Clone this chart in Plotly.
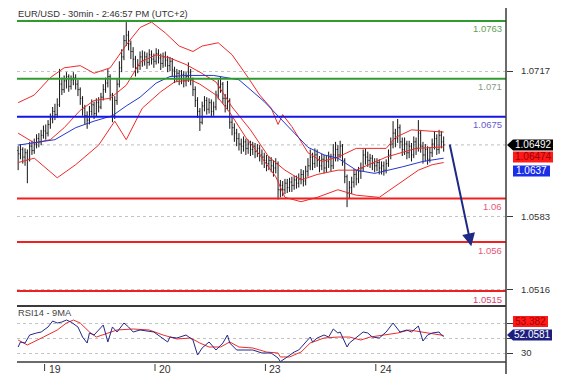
import plotly.graph_objects as go

W, H = 562, 383

# ---------------- data ----------------
closes = [
    1.0641, 1.0645, 1.0638, 1.0642, 1.0636, 1.0648, 1.0644, 1.0650, 1.0655, 1.0652,
    1.0658, 1.0662, 1.0660, 1.0668, 1.0673, 1.0680, 1.0677, 1.0686, 1.0705, 1.0700,
    1.0708, 1.0712, 1.0703, 1.0709, 1.0711, 1.0705, 1.0700, 1.0692, 1.0683, 1.0676,
    1.0672, 1.0680, 1.0686, 1.0678, 1.0688, 1.0684, 1.0693, 1.0700, 1.0706, 1.0712,
    1.0695, 1.0676, 1.0690, 1.0705, 1.0720, 1.0730, 1.0745, 1.0750, 1.0742, 1.0735,
    1.0728, 1.0720, 1.0722, 1.0730, 1.0727, 1.0730, 1.0725, 1.0732, 1.0728, 1.0726,
    1.0733, 1.0729, 1.0724, 1.0730, 1.0727, 1.0722, 1.0726, 1.0718, 1.0712, 1.0715,
    1.0710, 1.0714, 1.0708, 1.0712, 1.0716, 1.0709, 1.0700, 1.0690, 1.0680, 1.0670,
    1.0685, 1.0690, 1.0682, 1.0688, 1.0680, 1.0684, 1.0695, 1.0703, 1.0705, 1.0692,
    1.0685, 1.0690, 1.0670, 1.0665, 1.0660, 1.0655, 1.0650, 1.0648, 1.0652, 1.0646,
    1.0650, 1.0645, 1.0648, 1.0643, 1.0646, 1.0640, 1.0638, 1.0635, 1.0632, 1.0635,
    1.0630, 1.0628, 1.0632, 1.0608, 1.0612, 1.0608, 1.0614, 1.0610, 1.0615, 1.0612,
    1.0617, 1.0614, 1.0618, 1.0622, 1.0616, 1.0625, 1.0630, 1.0638, 1.0632, 1.0640,
    1.0635, 1.0630, 1.0636, 1.0628, 1.0634, 1.0638, 1.0630, 1.0640, 1.0645, 1.0640,
    1.0648, 1.0635, 1.0620, 1.0605, 1.0610, 1.0615, 1.0622, 1.0618, 1.0625, 1.0628,
    1.0640, 1.0638, 1.0635, 1.0637, 1.0632, 1.0630, 1.0633, 1.0628, 1.0630, 1.0626,
    1.0632, 1.0640, 1.0650, 1.0660, 1.0655, 1.0665, 1.0652, 1.0645, 1.0650, 1.0642,
    1.0648, 1.0640, 1.0652, 1.0646, 1.0660, 1.0648, 1.0640, 1.0645, 1.0636, 1.0642,
    1.0650, 1.0655, 1.0645, 1.0658, 1.0652, 1.06492,
]
highs = [
    1.0648, 1.0650, 1.0647, 1.0646, 1.0645, 1.0652, 1.0653, 1.0655, 1.0659, 1.0660,
    1.0663, 1.0667, 1.0668, 1.0672, 1.0678, 1.0684, 1.0687, 1.0692, 1.0719, 1.0711,
    1.0713, 1.0716, 1.0714, 1.0713, 1.0716, 1.0714, 1.0709, 1.0702, 1.0694, 1.0686,
    1.0680, 1.0685, 1.0691, 1.0689, 1.0692, 1.0693, 1.0697, 1.0705, 1.0711, 1.0719,
    1.0714, 1.0697, 1.0694, 1.0710, 1.0726, 1.0737, 1.0750, 1.0762, 1.0754, 1.0745,
    1.0739, 1.0731, 1.0728, 1.0735, 1.0736, 1.0735, 1.0734, 1.0737, 1.0736, 1.0733,
    1.0738, 1.0737, 1.0733, 1.0734, 1.0735, 1.0731, 1.0730, 1.0729, 1.0721, 1.0719,
    1.0718, 1.0718, 1.0717, 1.0716, 1.0725, 1.0719, 1.0711, 1.0703, 1.0693, 1.0683,
    1.0689, 1.0694, 1.0693, 1.0692, 1.0691, 1.0689, 1.0699, 1.0709, 1.0712, 1.0707,
    1.0696, 1.0708, 1.0692, 1.0675, 1.0669, 1.0664, 1.0660, 1.0655, 1.0657, 1.0655,
    1.0654, 1.0653, 1.0652, 1.0651, 1.0650, 1.0649, 1.0645, 1.0642, 1.0640, 1.0639,
    1.0638, 1.0635, 1.0637, 1.0634, 1.0617, 1.0616, 1.0618, 1.0618, 1.0619, 1.0620,
    1.0621, 1.0621, 1.0623, 1.0627, 1.0626, 1.0630, 1.0637, 1.0645, 1.0642, 1.0646,
    1.0645, 1.0639, 1.0641, 1.0640, 1.0639, 1.0643, 1.0641, 1.0650, 1.0652, 1.0649,
    1.0653, 1.0650, 1.0637, 1.0622, 1.0616, 1.0620, 1.0627, 1.0626, 1.0629, 1.0633,
    1.0645, 1.0646, 1.0643, 1.0641, 1.0640, 1.0637, 1.0637, 1.0636, 1.0634, 1.0634,
    1.0636, 1.0645, 1.0656, 1.0671, 1.0664, 1.0673, 1.0668, 1.0656, 1.0656, 1.0653,
    1.0653, 1.0651, 1.0657, 1.0656, 1.0672, 1.0663, 1.0652, 1.0650, 1.0648, 1.0647,
    1.0655, 1.0662, 1.0659, 1.0663, 1.0662, 1.0657,
]
lows = [
    1.0626, 1.0636, 1.0632, 1.0630, 1.0614, 1.0634, 1.0640, 1.0641, 1.0646, 1.0647,
    1.0649, 1.0655, 1.0654, 1.0657, 1.0664, 1.0669, 1.0672, 1.0674, 1.0684, 1.0695,
    1.0697, 1.0701, 1.0698, 1.0700, 1.0704, 1.0700, 1.0694, 1.0686, 1.0676, 1.0668,
    1.0664, 1.0668, 1.0676, 1.0673, 1.0675, 1.0679, 1.0682, 1.0690, 1.0697, 1.0702,
    1.0690, 1.0670, 1.0673, 1.0686, 1.0702, 1.0716, 1.0727, 1.0740, 1.0736, 1.0728,
    1.0720, 1.0712, 1.0715, 1.0718, 1.0721, 1.0722, 1.0719, 1.0722, 1.0723, 1.0720,
    1.0723, 1.0724, 1.0718, 1.0720, 1.0721, 1.0716, 1.0717, 1.0712, 1.0706, 1.0707,
    1.0704, 1.0705, 1.0702, 1.0703, 1.0707, 1.0704, 1.0694, 1.0684, 1.0674, 1.0662,
    1.0668, 1.0680, 1.0677, 1.0678, 1.0675, 1.0676, 1.0681, 1.0691, 1.0697, 1.0687,
    1.0679, 1.0681, 1.0664, 1.0658, 1.0652, 1.0648, 1.0644, 1.0641, 1.0643, 1.0640,
    1.0641, 1.0639, 1.0640, 1.0637, 1.0638, 1.0634, 1.0631, 1.0628, 1.0625, 1.0626,
    1.0624, 1.0620, 1.0623, 1.0599, 1.0601, 1.0602, 1.0604, 1.0605, 1.0606, 1.0606,
    1.0608, 1.0609, 1.0610, 1.0613, 1.0611, 1.0612, 1.0620, 1.0626, 1.0626, 1.0628,
    1.0629, 1.0624, 1.0626, 1.0623, 1.0624, 1.0628, 1.0625, 1.0627, 1.0634, 1.0634,
    1.0637, 1.0630, 1.0614, 1.0592, 1.0600, 1.0604, 1.0610, 1.0612, 1.0614, 1.0618,
    1.0625, 1.0631, 1.0629, 1.0628, 1.0626, 1.0624, 1.0625, 1.0622, 1.0622, 1.0621,
    1.0623, 1.0629, 1.0636, 1.0646, 1.0647, 1.0651, 1.0646, 1.0639, 1.0640, 1.0636,
    1.0637, 1.0634, 1.0637, 1.0640, 1.0643, 1.0642, 1.0632, 1.0634, 1.0631, 1.0633,
    1.0638, 1.0645, 1.0640, 1.0641, 1.0646, 1.0643,
]
first_open = 1.0644
opens = [first_open] + closes[:-1]
bars = list(range(len(closes)))

# Bollinger bands (red) and moving average (blue), sampled at bar indices
bb_up_idx = [0, 7, 14, 20, 27, 33, 40, 47, 53, 58, 64, 70, 76, 80, 87, 93, 100, 105, 110, 113,
             115, 119, 126, 132, 139, 147, 160, 164, 171, 185]
bb_up = [1.0688, 1.0695, 1.0711, 1.0720, 1.0722, 1.0715, 1.0720, 1.0741, 1.0757, 1.0762,
         1.0752, 1.0740, 1.0735, 1.0740, 1.0743, 1.0732, 1.0711, 1.0695, 1.0683, 1.0668,
         1.0677, 1.0666, 1.0642, 1.0634, 1.0638, 1.0646, 1.0646, 1.0656, 1.0663, 1.0661]
bb_mid_idx = [0, 7, 14, 20, 27, 33, 40, 47, 53, 60, 66, 73, 79, 86, 93, 101, 109, 116, 123,
              130, 139, 147, 160, 173, 185]
bb_mid = [1.0660, 1.0651, 1.0654, 1.0665, 1.0681, 1.0690, 1.0692, 1.0704, 1.0725, 1.0732,
          1.0729, 1.0723, 1.0716, 1.0707, 1.0684, 1.0663, 1.0638, 1.0626, 1.0617, 1.0622,
          1.0626, 1.0626, 1.0638, 1.0646, 1.06474]
bb_lo_idx = [0, 7, 17, 25, 35, 42, 47, 54, 62, 68, 75, 79, 86, 92, 99, 105, 112, 116, 123,
             130, 139, 147, 157, 164, 174, 180, 185]
bb_lo = [1.0633, 1.0637, 1.0619, 1.0631, 1.0649, 1.0671, 1.0654, 1.0683, 1.0698, 1.0707,
         1.0709, 1.0705, 1.0695, 1.0679, 1.0656, 1.0640, 1.0620, 1.0601, 1.0597, 1.0601,
         1.0608, 1.0603, 1.0601, 1.0611, 1.0626, 1.0631, 1.0633]
ma_idx = [0, 7, 16, 25, 33, 41, 47, 53, 60, 66, 73, 85, 96, 107, 119, 126, 133, 139, 147,
          155, 167, 176, 185]
ma = [1.0649, 1.0651, 1.0654, 1.0665, 1.0671, 1.0676, 1.0685, 1.0693, 1.0706, 1.0712,
      1.0713, 1.0713, 1.0709, 1.0689, 1.0663, 1.0647, 1.0640, 1.0637, 1.0626, 1.0623,
      1.0629, 1.0634, 1.0637]

# RSI(14) and its 9-period MA
rsi_idx = [0, 1, 3, 5, 8, 10, 13, 15, 17, 19, 21, 23, 26, 28, 30, 31, 33, 36, 37, 39,
           41, 43, 46, 48, 50, 53, 59, 65, 66, 69, 73, 76, 78, 80, 83, 86, 89, 91, 92, 95,
           98, 102, 106, 110, 113, 114, 117, 120, 122, 125, 127, 128, 130, 133, 135, 137, 139, 140,
           143, 144, 147, 150, 152, 154, 157, 160, 163, 166, 169, 171, 174, 175, 176, 178,
           180, 183, 184, 185]
rsi = [38.0, 44.7, 43.3, 54.0, 56.7, 58.0, 64.7, 72.7, 70.0, 71.3, 74.0, 71.3, 64.7, 51.3,
       43.3, 56.7, 54.0, 63.3, 67.3, 44.7, 64.7, 58.0, 70.0, 64.7, 58.0, 60.7, 58.0, 44.7,
       51.3, 50.0, 54.0, 47.3, 27.3, 36.7, 44.7, 34.0, 43.3, 54.0, 43.3, 34.0, 34.0, 34.0,
       30.0, 30.0, 23.3, 18.5, 24.7, 31.3, 34.0, 44.7, 51.3, 44.7, 50.0, 54.0, 51.3, 62.0,
       56.7, 58.0, 38.0, 43.3, 51.3, 58.0, 56.7, 51.3, 50.0, 58.0, 70.0, 58.0, 60.7, 58.0,
       66.0, 54.0, 46.0, 54.0, 56.7, 58.0, 54.0, 52.0581]
rsi_ma_idx = [0, 4, 11, 17, 21, 24, 27, 31, 34, 39, 43, 50, 57, 63, 69, 75, 79, 83, 88, 92,
              96, 102, 108, 113, 114, 118, 123, 127, 133, 139, 144, 149, 153, 159, 165, 170,
              175, 179, 185]
rsi_ma = [47.3, 40.7, 51.3, 60.7, 70.0, 74.0, 70.0, 58.0, 51.3, 56.7, 60.7, 62.0, 60.7,
          54.0, 48.7, 50.0, 43.3, 38.0, 38.0, 44.7, 38.0, 36.7, 31.3, 30.0, 24.7, 24.7,
          31.3, 43.3, 50.0, 51.3, 51.3, 47.3, 51.3, 54.0, 56.7, 60.7, 58.0, 56.7, 53.382]

levels = [1.0763, 1.071, 1.0675, 1.06, 1.056, 1.0515]
level_labels = ["1.0763", "1.071", "1.0675", "1.06", "1.056", "1.0515"]
level_colors = ["#2f9b2f", "#2f9b2f", "#1515e6", "#ee2020", "#ee2020", "#ee2020"]
level_label_colors = ["#5f9f55", "#8a9a8a", "#6a5ad0", "#e8577c", "#e8577c", "#d84470"]
price_ticks = [1.0717, 1.0583, 1.0516]
price_tick_text = ["1.0717", "1.0583", "1.0516"]
rsi_ticks = [30, 50, 70]
rsi_tick_text = ["30", "", ""]
day_ticks = [11.5, 59.5, 107.5, 155.5]
day_labels = ["19", "20", "23", "24"]
title_text = "EUR/USD - 30min - 2:46:57 PM (UTC+2)"
rsi_title = "RSI14 - 9MA"
arrow_start = (187.5, 1.0651)
arrow_end = (197.0, 1.0556)

# ---------------- layout geometry ----------------
FONT = "Liberation Sans, Arial, sans-serif"
X_L, X_R = 17, 506           # plot area (px)
MAIN_T, MAIN_B = 6, 302
RSI_T, RSI_B = 306, 362
PRICE_RANGE = [1.050490, 1.077678]
RSI_RANGE = [18.0, 92.7]
X_RANGE = [-0.5, 212.1]


def px(x):
    return x / W


def py(y):
    return 1 - y / H


def price_y(p):
    lo, hi = PRICE_RANGE
    return MAIN_T + (hi - p) / (hi - lo) * (MAIN_B - MAIN_T)


def rsi_y(v):
    lo, hi = RSI_RANGE
    return RSI_T + (hi - v) / (hi - lo) * (RSI_B - RSI_T)


fig = go.Figure()

fig.add_trace(go.Ohlc(
    x=bars, open=opens, high=highs, low=lows, close=closes,
    increasing=dict(line=dict(color="#151515", width=1)),
    decreasing=dict(line=dict(color="#151515", width=1)),
    tickwidth=0.35, xaxis="x", yaxis="y", showlegend=False, hoverinfo="skip",
))
for xi, yi in [(bb_up_idx, bb_up), (bb_mid_idx, bb_mid), (bb_lo_idx, bb_lo)]:
    fig.add_trace(go.Scatter(x=xi, y=yi, mode="lines", line=dict(color="#ee2a2a", width=1),
                             xaxis="x", yaxis="y", showlegend=False, hoverinfo="skip"))
fig.add_trace(go.Scatter(x=ma_idx, y=ma, mode="lines", line=dict(color="#2536d0", width=1),
                         xaxis="x", yaxis="y", showlegend=False, hoverinfo="skip"))

fig.add_trace(go.Scatter(x=rsi_ma_idx, y=rsi_ma, mode="lines", line=dict(color="#ee2a2a", width=1),
                         xaxis="x2", yaxis="y2", showlegend=False, hoverinfo="skip"))
fig.add_trace(go.Scatter(x=rsi_idx, y=rsi, mode="lines", line=dict(color="#23288a", width=1),
                         xaxis="x2", yaxis="y2", showlegend=False, hoverinfo="skip"))

shapes = []
annotations = []

# current price dotted line
shapes.append(dict(type="line", xref="x domain", yref="y", x0=0, x1=1, y0=closes[-1], y1=closes[-1],
                   line=dict(color="#bdbdbd", width=1, dash="dot"), layer="below"))

# horizontal levels
for lv, lab, lc, tc in zip(levels, level_labels, level_colors, level_label_colors):
    shapes.append(dict(type="line", xref="x domain", yref="y", x0=0, x1=1, y0=lv, y1=lv,
                       line=dict(color=lc, width=2)))
    annotations.append(dict(xref="x domain", yref="y", x=1, y=lv, xanchor="right", yanchor="middle",
                            xshift=-2, yshift=-8, text=lab, showarrow=False,
                            font=dict(family=FONT, size=9.5, color=tc)))

# separators / frame
shapes.append(dict(type="line", xref="paper", yref="paper", x0=px(X_L), x1=px(X_R),
                   y0=py(RSI_T), y1=py(RSI_T), line=dict(color="#3a3a3a", width=2)))
shapes.append(dict(type="line", xref="paper", yref="paper", x0=px(X_L), x1=px(X_R),
                   y0=py(RSI_B), y1=py(RSI_B), line=dict(color="#3a3a3a", width=1.5)))
shapes.append(dict(type="line", xref="paper", yref="paper", x0=px(X_R), x1=px(X_R),
                   y0=py(8), y1=py(374), line=dict(color="#3a3a3a", width=1.5)))

# day ticks and labels
for d, lab in zip(day_ticks, day_labels):
    shapes.append(dict(type="line", xref="x2", yref="paper", x0=d, x1=d,
                       y0=py(RSI_B + 2), y1=py(RSI_B + 9), line=dict(color="#3a3a3a", width=1)))
    annotations.append(dict(xref="x2", yref="paper", x=d, y=py(369), xanchor="left", yanchor="middle",
                            xshift=2, text=lab, showarrow=False,
                            font=dict(family=FONT, size=10.5, color="#333333")))

# arrow
annotations.append(dict(xref="x", yref="y", axref="x", ayref="y",
                        x=arrow_end[0], y=arrow_end[1], ax=arrow_start[0], ay=arrow_start[1],
                        showarrow=True, arrowhead=2, arrowsize=1.3, arrowwidth=2,
                        arrowcolor="#1f2a86", text=""))


# value boxes
def tag(y_c, x0, x1, color, text, txt_color, pointed):
    h = 5.5
    if pointed:
        path = (f"M {px(x0)},{py(y_c)} L {px(x0 + 6)},{py(y_c - h)} L {px(x1)},{py(y_c - h)} "
                f"L {px(x1)},{py(y_c + h)} L {px(x0 + 6)},{py(y_c + h)} Z")
        cx = (x0 + 6 + x1) / 2
    else:
        path = (f"M {px(x0)},{py(y_c - h)} L {px(x1)},{py(y_c - h)} "
                f"L {px(x1)},{py(y_c + h)} L {px(x0)},{py(y_c + h)} Z")
        cx = (x0 + x1) / 2
    shapes.append(dict(type="path", xref="paper", yref="paper", path=path,
                       fillcolor=color, line=dict(width=0)))
    annotations.append(dict(xref="paper", yref="paper", x=px(cx), y=py(y_c), xanchor="center",
                            yanchor="middle", text=text, showarrow=False,
                            font=dict(family=FONT, size=10, color=txt_color)))


y0 = price_y(closes[-1])
tag(y0, 507, 553, "#000000", f"{closes[-1]:.5f}", "#ffffff", True)
tag(y0 + 12, 513, 553, "#ff1a1a", f"{bb_mid[-1]:.5f}", "#a00000", False)
tag(y0 + 26, 513, 550, "#1a2ee8", f"{ma[-1]:.4f}", "#ffffff", False)

yr = rsi_y(rsi[-1])
tag(yr - 1.5, 507, 552, "#1c1f80", f"{rsi[-1]}", "#ffffff", True)
tag(yr - 15, 513, 548, "#ff1a1a", f"{rsi_ma[-1]}", "#a00000", False)

# titles
annotations.append(dict(xref="paper", yref="paper", x=px(16), y=py(14), xanchor="left", yanchor="middle",
                        text=title_text, showarrow=False, font=dict(family=FONT, size=9.3, color="#333333")))
annotations.append(dict(xref="paper", yref="paper", x=px(16), y=py(313), xanchor="left", yanchor="middle",
                        text=rsi_title, showarrow=False, font=dict(family=FONT, size=9.3, color="#444444")))

fig.update_layout(
    width=W, height=H, margin=dict(l=0, r=0, t=0, b=0),
    paper_bgcolor="white", plot_bgcolor="white", showlegend=False,
    xaxis=dict(domain=[px(X_L), px(X_R)], range=X_RANGE, anchor="y", visible=False,
               rangeslider=dict(visible=False), fixedrange=True),
    yaxis=dict(domain=[py(MAIN_B), py(MAIN_T)], range=PRICE_RANGE, anchor="x", side="right",
               tickvals=price_ticks, ticktext=price_tick_text, ticks="outside", ticklen=6,
               tickcolor="#3a3a3a", ticklabelstandoff=6,
               tickfont=dict(family=FONT, size=9.5, color="#333333"),
               showgrid=True, gridcolor="#c4c4c4", griddash="dot", gridwidth=1,
               zeroline=False, showline=False),
    xaxis2=dict(domain=[px(X_L), px(X_R)], range=X_RANGE, anchor="y2", showticklabels=False,
                showgrid=False, zeroline=False, ticks="", showline=False),
    yaxis2=dict(domain=[py(RSI_B), py(RSI_T)], range=RSI_RANGE, anchor="x2", side="right",
                tickvals=rsi_ticks, ticktext=rsi_tick_text, ticks="outside", ticklen=6,
                tickcolor="#3a3a3a", ticklabelstandoff=6,
                tickfont=dict(family=FONT, size=9.5, color="#333333"),
                showgrid=True, gridcolor="#c4c4c4", griddash="dot", gridwidth=1,
                zeroline=False, showline=False),
    shapes=shapes, annotations=annotations,
)

fig.write_html(
    "out.html",
    config={"displayModeBar": False},
    post_script="document.body.style.margin='0';document.body.style.overflow='hidden';",
)
